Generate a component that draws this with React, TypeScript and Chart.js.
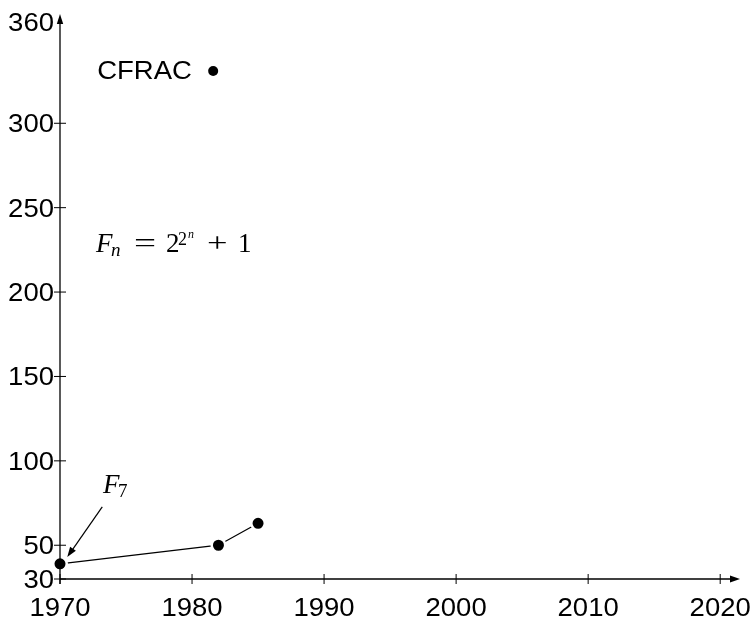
import React, { useEffect, useRef } from "react";
import { Chart, registerables } from "chart.js";

Chart.register(...registerables);

// ---- data ----
const trendYears = [1970, 1982, 1985];
const trendDigits = [39, 50, 63];
const cfracYear = [1981.6];
const cfracDigits = [331];
const xTickValues = [1970, 1980, 1990, 2000, 2010, 2020];
const yTickValues = [30, 50, 100, 150, 200, 250, 300, 360];
const X_MIN = 1970;
const X_MAX = 2021.5;
const Y_MIN = 30;
const Y_MAX = 360;
// annotation arrow (data coords): from label to F7 point
const arrowFrom = [1973.2, 72.7];
const arrowTo = [1970.55, 43];

const SANS = '"Liberation Sans", Arial, Helvetica, sans-serif';
const SERIF = '"Liberation Serif", "Times New Roman", serif';

function sText(ctx: CanvasRenderingContext2D, text: string, x: number, y: number, align: CanvasTextAlign, font: string, sx = 1.1) {
  ctx.save();
  ctx.translate(x, y);
  ctx.scale(sx, 1);
  ctx.font = font;
  ctx.textAlign = align;
  ctx.textBaseline = "alphabetic";
  ctx.fillText(text, 0, 0);
  ctx.restore();
}

function arrowHead(ctx: CanvasRenderingContext2D, fx: number, fy: number, tx: number, ty: number, len: number, half: number) {
  const a = Math.atan2(ty - fy, tx - fx);
  const bx = tx - len * Math.cos(a);
  const by = ty - len * Math.sin(a);
  ctx.beginPath();
  ctx.moveTo(tx, ty);
  ctx.lineTo(bx + half * Math.sin(a), by - half * Math.cos(a));
  ctx.lineTo(bx - half * Math.sin(a), by + half * Math.cos(a));
  ctx.closePath();
  ctx.fill();
}

const decoPlugin = {
  id: "deco",
  afterDatasetsDraw(chart: any) {
    const ctx: CanvasRenderingContext2D = chart.ctx;
    const xs = chart.scales.x;
    const ys = chart.scales.y;
    const x0 = xs.getPixelForValue(X_MIN);
    const y0 = ys.getPixelForValue(Y_MIN);
    const xEnd = xs.getPixelForValue(X_MAX);
    const yTop = ys.getPixelForValue(Y_MAX);
    ctx.save();
    ctx.strokeStyle = "#000";
    ctx.fillStyle = "#000";
    ctx.lineWidth = 1.3;
    // x axis
    ctx.beginPath();
    ctx.moveTo(x0, y0);
    ctx.lineTo(xEnd - 6, y0);
    ctx.stroke();
    arrowHead(ctx, x0, y0, xEnd, y0, 10, 3.6);
    // y axis
    ctx.beginPath();
    ctx.moveTo(x0, y0 + 5);
    ctx.lineTo(x0, yTop - 2);
    ctx.stroke();
    arrowHead(ctx, x0, y0, x0, yTop - 8, 10, 3.2);
    // ticks
    ctx.lineWidth = 1;
    for (const v of xTickValues) {
      const px = xs.getPixelForValue(v);
      ctx.beginPath();
      ctx.moveTo(px, y0 - 5);
      ctx.lineTo(px, y0 + 5);
      ctx.stroke();
      sText(ctx, String(v), px, y0 + 37, "center", `25px ${SANS}`);
    }
    for (const v of yTickValues) {
      const py = ys.getPixelForValue(v);
      if (v !== Y_MAX) {
        ctx.beginPath();
        ctx.moveTo(x0 - 6, py);
        ctx.lineTo(x0 + 6, py);
        ctx.stroke();
      }
      sText(ctx, String(v), x0 - 6, py + 9, "right", `25px ${SANS}`);
    }
    // CFRAC label
    const cx = xs.getPixelForValue(cfracYear[0]);
    const cy = ys.getPixelForValue(cfracDigits[0]);
    sText(ctx, "CFRAC", cx - 116, cy + 8, "left", `25px ${SANS}`);
    // formula F_n = 2^{2^n} + 1
    const it = (s: number) => `italic ${s}px ${SERIF}`;
    const up = (s: number) => `${s}px ${SERIF}`;
    sText(ctx, "F", 96, 252, "left", it(27), 1);
    sText(ctx, "n", 111, 256, "left", it(19), 1);
    sText(ctx, "=", 134, 252, "left", up(27), 1.45);
    sText(ctx, "2", 166, 252, "left", up(27), 1);
    sText(ctx, "2", 178, 245, "left", up(18), 1);
    sText(ctx, "n", 188, 238, "left", it(12), 1);
    sText(ctx, "+", 207, 252, "left", up(27), 1.35);
    sText(ctx, "1", 238, 252, "left", up(27), 1);
    // F_7 label
    sText(ctx, "F", 103, 493, "left", it(27), 1);
    sText(ctx, "7", 118, 497, "left", up(19), 1);
    // annotation arrow
    const ax1 = xs.getPixelForValue(arrowFrom[0]);
    const ay1 = ys.getPixelForValue(arrowFrom[1]);
    const ax2 = xs.getPixelForValue(arrowTo[0]);
    const ay2 = ys.getPixelForValue(arrowTo[1]);
    ctx.lineWidth = 1.2;
    ctx.beginPath();
    ctx.moveTo(ax1, ay1);
    ctx.lineTo(ax2 + (ax1 - ax2) * 0.12, ay2 + (ay1 - ay2) * 0.12);
    ctx.stroke();
    arrowHead(ctx, ax1, ay1, ax2, ay2, 10, 3.5);
    ctx.restore();
  },
};

export default function App() {
  const ref = useRef<HTMLCanvasElement | null>(null);
  useEffect(() => {
    if (!ref.current) return;
    const chart = new Chart(ref.current, {
      type: "line",
      data: {
        datasets: [
          {
            data: trendYears.map((x, i) => ({ x, y: trendDigits[i] })),
            borderColor: "#000",
            borderWidth: 1.3,
            pointRadius: 6.75,
            pointBackgroundColor: "#000",
            pointBorderColor: "#fff",
            pointBorderWidth: 2.5,
            fill: false,
            tension: 0,
            clip: false as any,
          },
          {
            data: cfracYear.map((x, i) => ({ x, y: cfracDigits[i] })),
            showLine: false,
            pointRadius: 5,
            pointBackgroundColor: "#000",
            pointBorderColor: "#000",
            pointBorderWidth: 0,
            clip: false as any,
          },
        ],
      },
      options: {
        animation: false,
        responsive: false,
        devicePixelRatio: 1,
        layout: { padding: { left: 60, right: 15, top: 22, bottom: 43 } },
        plugins: { legend: { display: false }, tooltip: { enabled: false } },
        events: [],
        scales: {
          x: { type: "linear", min: X_MIN, max: X_MAX, display: false },
          y: { type: "linear", min: Y_MIN, max: Y_MAX, display: false },
        },
      },
      plugins: [decoPlugin],
    });
    return () => chart.destroy();
  }, []);
  return (
    <div style={{ position: "fixed", left: 0, top: 0, width: 755, height: 622, background: "#fff" }}>
      <canvas ref={ref} width={755} height={622} style={{ display: "block" }} />
    </div>
  );
}
